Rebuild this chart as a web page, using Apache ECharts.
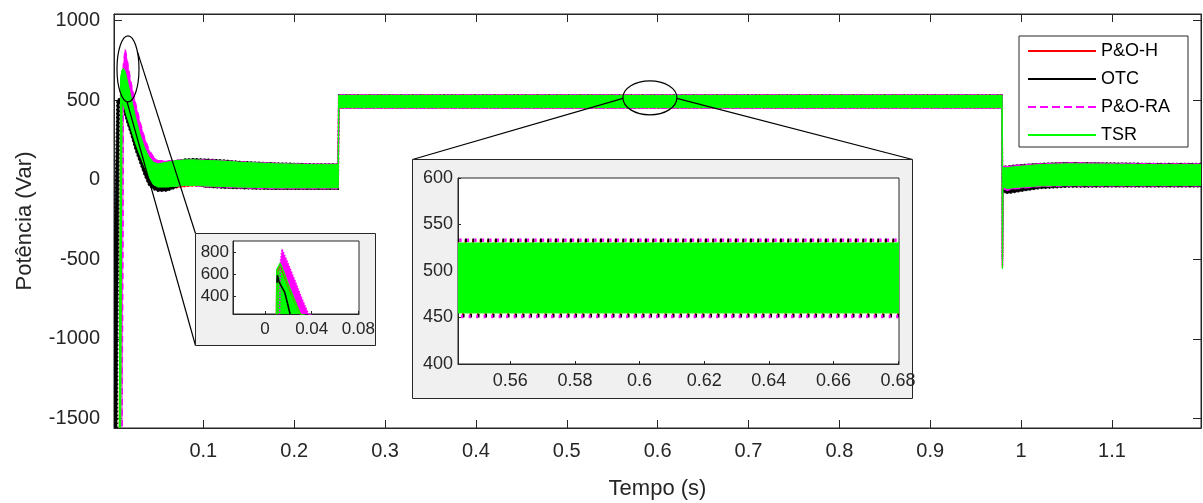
<!DOCTYPE html>
<html>
<head>
<meta charset="utf-8">
<script src="https://cdn.jsdelivr.net/npm/echarts@6/dist/echarts.min.js"></script>
<style>html,body{margin:0;padding:0;background:#fff}#c{width:1203px;height:503px}</style>
</head>
<body>
<div id="c"></div>
<script>
// ---- Data ----
// time samples (s) for the envelopes of the oscillating signals
const T = [0.002, 0.005, 0.0075, 0.009, 0.0105, 0.012, 0.014, 0.016, 0.02, 0.025,
  0.03, 0.035, 0.04, 0.045, 0.05, 0.06, 0.07, 0.08, 0.09, 0.1,
  0.12, 0.14, 0.16, 0.18, 0.2, 0.22, 0.24, 0.2485, 0.249, 0.26,
  0.3, 0.35, 0.4, 0.45, 0.5, 0.55, 0.6, 0.65, 0.7, 0.75,
  0.8, 0.85, 0.9, 0.95, 0.979, 0.9795, 0.98, 0.985, 0.99, 1.0,
  1.02, 1.05, 1.1, 1.15, 1.198];

// P&O-H envelope (upper / lower), Var
const phUp = [-1600, -1600, -1600, 600, 680, 690, 670, 620, 520, 390,
  280, 200, 140, 105, 98, 108, 118, 122, 123, 122,
  118, 110, 105, 100, 98, 96, 96, 96, 532, 532,
  532, 532, 532, 532, 532, 532, 532, 532, 532, 532,
  532, 532, 532, 532, 532, 85, 82, 80, 85, 90,
  100, 104, 101, 98, 98];
const phLo = [-1600, -1600, -1600, -1600, 490, 460, 430, 390, 320, 230,
  150, 80, 5, -40, -55, -58, -50, -42, -38, -42,
  -47, -52, -55, -56, -56, -56, -56, -56, 453, 453,
  453, 453, 453, 453, 453, 453, 453, 453, 453, 453,
  453, 453, 453, 453, 453, -550, -60, -70, -62, -56,
  -45, -40, -40, -40, -40];

// OTC envelope
const otcUp = [-480, 500, 510, 520, 520, 500, 470, 430, 360, 270,
  190, 120, 70, 50, 60, 100, 120, 130, 132, 130,
  125, 115, 110, 105, 103, 100, 100, 100, 533, 533,
  533, 533, 533, 533, 533, 533, 533, 533, 533, 533,
  533, 533, 533, 533, 533, 90, 85, 85, 90, 95,
  102, 108, 105, 102, 102];
const otcLo = [-1600, -1600, 480, 490, 470, 440, 400, 360, 290, 190,
  110, 30, -35, -60, -72, -70, -50, -15, -20, -45,
  -52, -55, -58, -60, -60, -60, -60, -60, 452, 452,
  452, 452, 452, 452, 452, 452, 452, 452, 452, 452,
  452, 452, 452, 452, 452, -500, -80, -85, -82, -72,
  -55, -46, -44, -44, -44];

// P&O-RA envelope
const raUp = [-1600, -1600, -1600, -1600, -1600, 720, 820, 760, 620, 490,
  370, 270, 190, 145, 120, 118, 122, 125, 125, 125,
  120, 112, 107, 103, 100, 98, 98, 98, 533, 533,
  533, 533, 533, 533, 533, 533, 533, 533, 533, 533,
  533, 533, 533, 533, 533, 88, 85, 82, 88, 92,
  100, 106, 103, 100, 100];
const raLo = [-1600, -1600, -1600, -1600, -1600, 560, 540, 500, 420, 320,
  220, 140, 60, 10, -25, -40, -40, -35, -35, -42,
  -45, -50, -53, -55, -55, -55, -55, -55, 451, 451,
  451, 451, 451, 451, 451, 451, 451, 451, 451, 451,
  451, 451, 451, 451, 451, -540, -55, -65, -58, -52,
  -42, -38, -38, -38, -38];

// TSR envelope
const tsrUp = [-1600, -1600, -1600, 640, 690, 700, 680, 630, 530, 400,
  290, 205, 145, 110, 100, 110, 120, 125, 125, 122,
  118, 110, 105, 100, 98, 95, 95, 95, 530, 530,
  530, 530, 530, 530, 530, 530, 530, 530, 530, 530,
  530, 530, 530, 530, 530, 80, 75, 75, 80, 85,
  95, 100, 98, 95, 95];
const tsrLo = [-1600, -1600, -1600, -1600, 500, 470, 440, 400, 330, 240,
  160, 90, 20, -30, -45, -45, -40, -35, -35, -38,
  -42, -45, -48, -50, -50, -50, -50, -50, 455, 455,
  455, 455, 455, 455, 455, 455, 455, 455, 455, 455,
  455, 455, 455, 455, 455, -560, -45, -55, -50, -45,
  -38, -35, -35, -35, -35];

// Small inset (start-up peak)
const zPhT = [0.0098, 0.0101, 0.0129, 0.02, 0.03, 0.033];
const zPhV = [230, 620, 690, 490, 240, 200];
const zOtcT = [0.0102, 0.0106, 0.012, 0.017, 0.0215];
const zOtcV = [520, 590, 530, 430, 235];
const zRaT = [0.0125, 0.0132, 0.0146, 0.02, 0.025, 0.03, 0.0372, 0.04];
const zRaV = [230, 720, 830, 690, 560, 420, 235, 200];
const zTsrT = [0.0098, 0.0101, 0.0129, 0.016, 0.02, 0.025, 0.03, 0.034];
const zTsrV = [230, 640, 700, 620, 500, 370, 240, 200];

// Tick labels
const xTicks = [0.1, 0.2, 0.3, 0.4, 0.5, 0.6, 0.7, 0.8, 0.9, 1, 1.1];
const yTicks = [-1500, -1000, -500, 0, 500, 1000];
const z1xTicks = [0, 0.04, 0.08];
const z1yTicks = [400, 600, 800];
const z2xTicks = [0.56, 0.58, 0.6, 0.62, 0.64, 0.66, 0.68];
const z2yTicks = [400, 450, 500, 550, 600];
const legendNames = ['P&O-H', 'OTC', 'P&O-RA', 'TSR'];

// ---- Styling / layout ----
const FONT = 'Arial, "Liberation Sans", Helvetica, sans-serif';
const AX = '#262626';
const COLORS = {'P&O-H': '#ff0000', 'OTC': '#000000', 'P&O-RA': '#ff00ff', 'TSR': '#00ff00'};
const EDGE = {'P&O-H': 'dotted', 'OTC': 'dotted', 'P&O-RA': 'dashed', 'TSR': 'solid'};
const DASH_OFFSET = {'P&O-H': 0, 'OTC': 2.5, 'P&O-RA': 5, 'TSR': 0};
const ENV = {'P&O-H': [phUp, phLo], 'OTC': [otcUp, otcLo], 'P&O-RA': [raUp, raLo], 'TSR': [tsrUp, tsrLo]};
const ZOOM1 = {'P&O-H': [zPhT, zPhV], 'P&O-RA': [zRaT, zRaV], 'TSR': [zTsrT, zTsrV]};

const ELL1 = {t: 0.0171, v: 697, rx: 11, ry: 33};
const ELL2 = {t: 0.5915, v: 515, rx: 27, ry: 17};
const BOX1 = {x: 195.5, y: 233.5, w: 180, h: 112};
const BOX2 = {x: 412.5, y: 159.5, w: 500, h: 239};

const fmt = v => String(v);

// envelope band drawn through the axes' scales (api.coord)
function band(name, xi, yi, z, w, fillAll, dotEdges) {
  const [up, lo] = ENV[name];
  const color = COLORS[name];
  const green = name === 'TSR';
  const lw = green ? 1 : w;
  const type = dotEdges && !green ? 'dotted' : EDGE[name];
  const dash = type === 'dotted' ? (dotEdges ? [2, 5.5] : [lw, lw * 1.6]) : (type === 'dashed' ? [4 * lw, 3 * lw] : null);
  const doFill = green || fillAll;
  return {
    type: 'custom', name: name + ' band ' + xi, xAxisIndex: xi, yAxisIndex: yi, z: z, silent: true, clip: true,
    animation: false,
    data: T.map((t, i) => [t, lo[i], up[i]]),
    encode: {x: 0, y: [1, 2]},
    renderItem: function (params, api) {
      if (params.dataIndexInside !== 0) return null;
      const n = params.dataInsideLength;
      const top = [], bot = [];
      for (let j = 0; j < n; j++) {
        const t = api.value(0, j);
        top.push(api.coord([t, api.value(2, j)]));
        bot.push(api.coord([t, api.value(1, j)]));
      }
      const cs = params.coordSys;
      const edgeStyle = {fill: null, stroke: color, lineWidth: lw, lineDash: dash, lineDashOffset: DASH_OFFSET[name]};
      const kids = [];
      if (doFill) {
        kids.push({type: 'polygon', shape: {points: top.concat(bot.slice().reverse())},
          style: {fill: color, stroke: color, lineWidth: 0.5}});
      }
      kids.push({type: 'polyline', shape: {points: top}, style: edgeStyle});
      kids.push({type: 'polyline', shape: {points: bot}, style: edgeStyle});
      return {
        type: 'group',
        clipPath: {type: 'rect', shape: {x: cs.x, y: cs.y, width: cs.width, height: cs.height}},
        children: kids
      };
    }
  };
}

const series = [];
legendNames.forEach(n => series.push({
  type: 'line', name: n, xAxisIndex: 0, yAxisIndex: 0, data: [], symbol: 'none', showSymbol: false,
  color: COLORS[n], itemStyle: {color: COLORS[n]},
  lineStyle: {color: COLORS[n], width: 1.2, type: n === 'P&O-RA' ? 'dashed' : 'solid'}
}));
legendNames.forEach(n => series.push(band(n, 0, 0, 2, 1.5, true, false)));
legendNames.forEach(n => series.push(band(n, 3, 3, 9, 3.5, false, true)));
['P&O-H', 'P&O-RA', 'TSR'].forEach(n => {
  const [tt, vv] = ZOOM1[n];
  series.push({type: 'line', name: n + ' zoom1', xAxisIndex: 2, yAxisIndex: 2, symbol: 'none', silent: true, z: 9,
    lineStyle: {color: COLORS[n], width: 1.5, type: n === 'P&O-RA' ? 'dotted' : 'solid'},
    areaStyle: {color: COLORS[n], opacity: 1, origin: 'start'},
    data: tt.map((t, i) => [t, vv[i]])});
});
series.push({type: 'line', name: 'OTC zoom1', xAxisIndex: 2, yAxisIndex: 2, symbol: 'none', silent: true, z: 10,
  lineStyle: {color: '#000', width: 1.6}, data: zOtcT.map((t, i) => [t, zOtcV[i]])});

function valueAxis(o) {
  return Object.assign({type: 'value', splitLine: {show: false}, axisLine: {show: true, onZero: false, lineStyle: {color: AX, width: 1}}}, o);
}

const option = {
  animation: false,
  backgroundColor: '#fff',
  textStyle: {fontFamily: FONT},
  grid: [
    {left: 114, top: 14, width: 1087, height: 414, show: true, borderColor: AX, borderWidth: 1,
      backgroundColor: 'rgba(0,0,0,0)', containLabel: false, outerBoundsMode: 'none'},
    {left: 233, top: 241, width: 126, height: 73, show: true, backgroundColor: '#fff', borderColor: AX,
      borderWidth: 1, z: 7, containLabel: false, outerBoundsMode: 'none'},
    {left: 458, top: 178, width: 441, height: 186, show: true, backgroundColor: '#fff', borderColor: AX,
      borderWidth: 1, z: 7, containLabel: false, outerBoundsMode: 'none'}
  ],
  xAxis: [
    valueAxis({gridIndex: 0, position: 'bottom', min: 0.0017, max: 1.198,
      axisTick: {show: true, inside: true, length: 8, customValues: xTicks, lineStyle: {color: AX}},
      axisLabel: {customValues: xTicks, formatter: fmt, fontSize: 20, color: AX, margin: 13, fontFamily: FONT},
      name: 'Tempo (s)', nameLocation: 'middle', nameGap: 50,
      nameTextStyle: {fontSize: 22, color: AX, fontFamily: FONT}}),
    valueAxis({gridIndex: 0, position: 'top', min: 0.0017, max: 1.198,
      axisTick: {show: true, inside: true, length: 8, customValues: xTicks, lineStyle: {color: AX}},
      axisLabel: {show: false}}),
    valueAxis({gridIndex: 1, min: -0.0275, max: 0.0806, z: 8,
      axisTick: {show: true, inside: true, length: 3, customValues: z1xTicks, lineStyle: {color: AX}},
      axisLabel: {customValues: z1xTicks, formatter: fmt, fontSize: 17, color: AX, margin: 7, fontFamily: FONT}}),
    valueAxis({gridIndex: 2, min: 0.5438, max: 0.6803, z: 8,
      axisTick: {show: true, inside: true, length: 3, customValues: z2xTicks, lineStyle: {color: AX}},
      axisLabel: {customValues: z2xTicks, formatter: fmt, fontSize: 18, color: AX, margin: 8, fontFamily: FONT}})
  ],
  yAxis: [
    valueAxis({gridIndex: 0, position: 'left', min: -1560, max: 1042,
      axisTick: {show: true, inside: true, length: 8, customValues: yTicks, lineStyle: {color: AX}},
      axisLabel: {customValues: yTicks, formatter: fmt, fontSize: 20, color: AX, margin: 14, fontFamily: FONT},
      name: 'Potência (Var)', nameLocation: 'middle', nameGap: 78,
      nameTextStyle: {fontSize: 22, color: AX, fontFamily: FONT}}),
    valueAxis({gridIndex: 0, position: 'right', min: -1560, max: 1042,
      axisTick: {show: true, inside: true, length: 8, customValues: yTicks, lineStyle: {color: AX}},
      axisLabel: {show: false}}),
    valueAxis({gridIndex: 1, min: 235, max: 904, z: 8,
      axisTick: {show: true, inside: true, length: 3, customValues: z1yTicks, lineStyle: {color: AX}},
      axisLabel: {customValues: z1yTicks, formatter: fmt, fontSize: 17, color: AX, margin: 4, fontFamily: FONT}}),
    valueAxis({gridIndex: 2, min: 400, max: 600, z: 8,
      axisTick: {show: true, inside: true, length: 3, customValues: z2yTicks, lineStyle: {color: AX}},
      axisLabel: {customValues: z2yTicks, formatter: fmt, fontSize: 18, color: AX, margin: 5, fontFamily: FONT}})
  ],
  legend: {
    data: legendNames, orient: 'vertical', left: 1019, top: 36, itemWidth: 68, itemHeight: 14, itemGap: 10,
    padding: [6, 18, 3, 8], borderColor: AX, borderWidth: 1, backgroundColor: '#fff', selectedMode: false,
    itemStyle: {opacity: 0},
    textStyle: {fontSize: 18, color: '#000', fontFamily: FONT}, z: 12
  },
  series: series
};

const chart = echarts.init(document.getElementById('c'), null, {renderer: 'canvas', width: 1203, height: 503});
chart.setOption(option);

function ept(c, e, deg) {
  const a = deg * Math.PI / 180;
  return [c[0] + e.rx * Math.cos(a), c[1] + e.ry * Math.sin(a)];
}
const c1 = chart.convertToPixel({xAxisIndex: 0, yAxisIndex: 0}, [ELL1.t, ELL1.v]);
const c2 = chart.convertToPixel({xAxisIndex: 0, yAxisIndex: 0}, [ELL2.t, ELL2.v]);
const p1a = ept(c1, ELL1, -32), p1b = ept(c1, ELL1, 95);
const p2a = ept(c2, ELL2, 178), p2b = ept(c2, ELL2, 2);
const lineStyle = {stroke: '#000', lineWidth: 1.2};
chart.setOption({
  graphic: [
    {type: 'line', z: 5, silent: true, shape: {x1: p1a[0], y1: p1a[1], x2: BOX1.x, y2: BOX1.y}, style: lineStyle},
    {type: 'line', z: 5, silent: true, shape: {x1: p1b[0], y1: p1b[1], x2: BOX1.x, y2: BOX1.y + BOX1.h}, style: lineStyle},
    {type: 'line', z: 5, silent: true, shape: {x1: p2a[0], y1: p2a[1], x2: BOX2.x, y2: BOX2.y}, style: lineStyle},
    {type: 'line', z: 5, silent: true, shape: {x1: p2b[0], y1: p2b[1], x2: BOX2.x + BOX2.w, y2: BOX2.y}, style: lineStyle},
    {type: 'ellipse', z: 5, silent: true, shape: {cx: c1[0], cy: c1[1], rx: ELL1.rx, ry: ELL1.ry},
      style: {fill: 'rgba(0,0,0,0)', stroke: '#000', lineWidth: 1.2}},
    {type: 'ellipse', z: 5, silent: true, shape: {cx: c2[0], cy: c2[1], rx: ELL2.rx, ry: ELL2.ry},
      style: {fill: 'rgba(0,0,0,0)', stroke: '#000', lineWidth: 1.2}},
    {type: 'rect', z: 6, silent: true, shape: {x: BOX1.x, y: BOX1.y, width: BOX1.w, height: BOX1.h},
      style: {fill: '#f0f0f0', stroke: AX, lineWidth: 1}},
    {type: 'rect', z: 6, silent: true, shape: {x: BOX2.x, y: BOX2.y, width: BOX2.w, height: BOX2.h},
      style: {fill: '#f0f0f0', stroke: AX, lineWidth: 1}}
  ]
});
</script>
</body>
</html>
